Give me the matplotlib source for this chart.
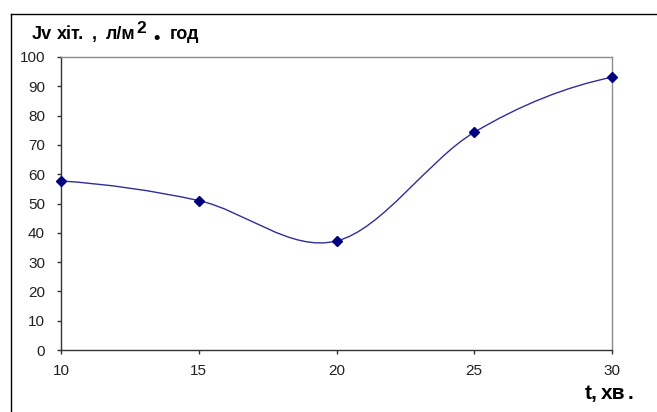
import matplotlib
matplotlib.use("Agg")
import matplotlib.pyplot as plt
from matplotlib.path import Path
from matplotlib.patches import PathPatch
from matplotlib.lines import Line2D
import numpy as np

plt.rcParams['font.family'] = ['Liberation Sans', 'DejaVu Sans']

# Flux vs time
t_min = [10, 15, 20, 25, 30]
jv_flux = [57.7, 51.0, 37.2, 74.3, 93.1]
y_ticks = [0, 10, 20, 30, 40, 50, 60, 70, 80, 90, 100]
x_ticks = [10, 15, 20, 25, 30]

W, H = 657, 412
fig = plt.figure(figsize=(W / 100, H / 100), dpi=100)


def fx(px):
    return px / W


def fy(py):
    return 1 - py / H


# outer chart frame (left and top edges lie inside the canvas)
fig.add_artist(Line2D([fx(10.5), fx(10.5)], [fy(13.5), fy(H + 2)],
                      transform=fig.transFigure, color='black', lw=1.0))
fig.add_artist(Line2D([fx(10.5), fx(W + 2)], [fy(13.5), fy(13.5)],
                      transform=fig.transFigure, color='black', lw=1.0))

L, R, T, B = 61, 612, 57, 350
ax = fig.add_axes([L / W, 1 - B / H, (R - L) / W, (B - T) / H])
ax.set_xlim(10, 30)
ax.set_ylim(0, 100)
ax.set_xticks(x_ticks)
ax.set_yticks(y_ticks)
ax.tick_params(axis='both', direction='out', length=3, width=1,
               color='#333333', labelsize=11, labelcolor='#222222')
ax.tick_params(axis='x', pad=7)
ax.tick_params(axis='y', pad=8.5)
for s in ('left', 'bottom'):
    ax.spines[s].set_color('#333333')
    ax.spines[s].set_linewidth(1.0)
for s in ('top', 'right'):
    ax.spines[s].set_color('#8c8c8c')
    ax.spines[s].set_linewidth(1.0)

# smoothed curve: Hermite tangents drawn as cubic Bezier segments
xs = np.array(t_min, float)
ys = np.array(jv_flux, float)
P = np.column_stack([xs, ys])
n = len(P)
m = np.zeros_like(P)
for i in range(1, n - 1):
    m[i] = (P[i + 1] - P[i - 1]) / 2.0
m[0] = 2 * (P[1] - P[0]) - m[1]
m[-1] = 2 * (P[-1] - P[-2]) - m[-2]
verts = [tuple(P[0])]
codes = [Path.MOVETO]
for i in range(n - 1):
    verts += [tuple(P[i] + m[i] / 3.0), tuple(P[i + 1] - m[i + 1] / 3.0),
              tuple(P[i + 1])]
    codes += [Path.CURVE4] * 3
ax.add_patch(PathPatch(Path(verts, codes), fill=False, edgecolor='#2e2e9c',
                       linewidth=1.0, clip_on=False))
ax.plot(t_min, jv_flux, linestyle='none', marker='D', markersize=5.5,
        color='#000080', clip_on=False, zorder=5)


def put(x_px, y_px, s, size):
    fig.text(fx(x_px), fy(y_px), s, fontsize=size, fontweight='bold',
             va='baseline', ha='left', color='black')


# y-axis title
put(32, 39, 'Jv', 13)
put(57, 39, 'хіт.', 13)
put(92, 39, ',', 13)
put(106, 39, 'л/м', 13)
put(136, 33, '2', 12.5)
put(153, 43, '•', 13)
put(170, 39, 'год', 13)

# x-axis title
put(585, 399, 't,', 15)
put(601, 399, 'хв', 15)
put(628, 399, '.', 15)

fig.savefig('out.png', dpi=100)
